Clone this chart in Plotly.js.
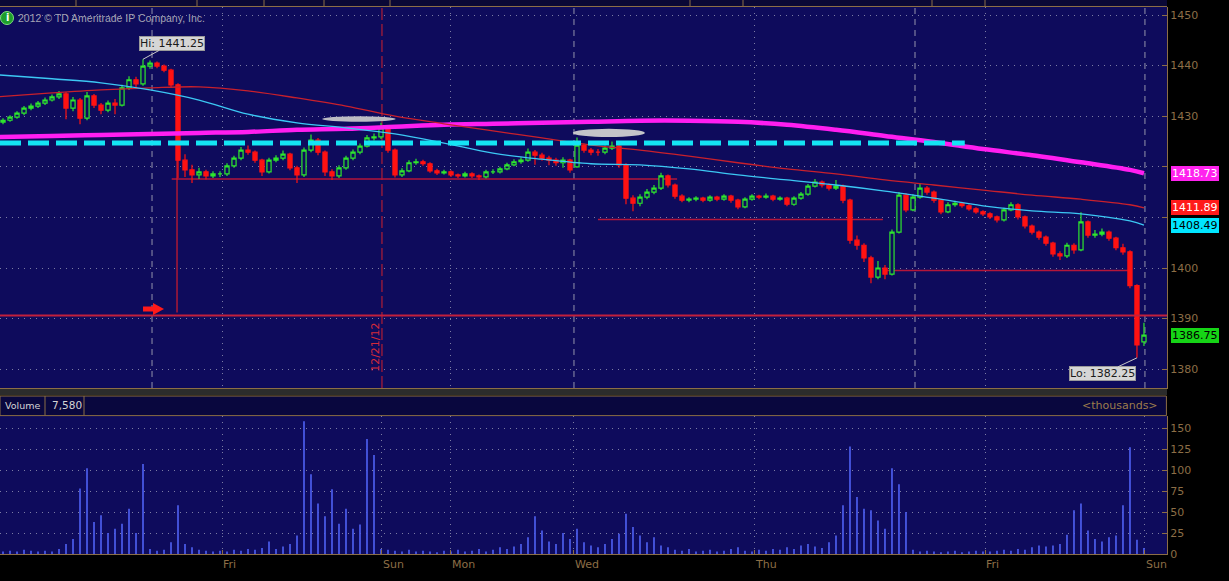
<!DOCTYPE html>
<html>
<head>
<meta charset="utf-8">
<script src="https://cdn.plot.ly/plotly-3.0.1.min.js"></script>
<style>
  html, body { margin: 0; padding: 0; background: #000; }
  #chart { width: 1229px; height: 581px; }
</style>
</head>
<body>
<div id="chart"></div>
<script>
// ---------- DATA ----------
const open = [1428.8,1429.2,1429.8,1430.6,1431.6,1432.0,1432.6,1433.2,1433.8,1434.4,
1431.6,1433.2,1429.6,1434.0,1432.2,1431.2,1432.6,1432.2,1435.6,1437.2,
1436.4,1439.9,1440.5,1439.9,1439.1,1436.2,1421.3,1419.4,1418.4,1419.0,
1418.2,1418.6,1418.6,1420.2,1421.7,1423.3,1422.9,1421.3,1419.0,1421.3,
1421.7,1422.5,1419.8,1418.4,1423.3,1425.3,1422.9,1419.0,1418.2,1419.8,
1421.7,1422.9,1424.1,1425.7,1425.9,1427.7,1423.3,1418.4,1419.2,1420.8,
1421.0,1420.6,1419.2,1418.8,1419.0,1418.4,1418.2,1418.6,1418.2,1418.0,
1419.0,1419.0,1419.6,1420.4,1421.0,1421.3,1422.9,1422.3,1421.7,1421.3,
1420.8,1421.3,1420.0,1424.3,1423.3,1422.9,1422.9,1423.7,1424.1,1420.4,
1413.8,1412.8,1414.0,1415.0,1415.8,1418.2,1416.4,1414.2,1413.4,1413.6,
1413.8,1413.4,1414.0,1413.6,1414.2,1413.4,1412.1,1413.6,1414.2,1414.0,
1414.2,1413.6,1413.8,1412.6,1413.8,1414.6,1416.2,1417.0,1416.4,1415.8,
1416.2,1413.4,1405.5,1404.5,1402.0,1398.2,1400.0,1398.8,1407.1,1414.4,
1411.5,1414.0,1415.8,1415.0,1413.4,1411.1,1412.5,1412.8,1412.3,1411.7,
1411.1,1410.7,1410.1,1409.5,1411.5,1412.5,1410.1,1408.3,1407.1,1406.1,
1404.9,1402.8,1402.4,1404.5,1403.6,1409.1,1406.5,1406.7,1407.1,1405.9,
1404.0,1403.2,1396.5,1385.4];

const high = [1429.6,1430.2,1431.0,1432.0,1432.5,1433.0,1433.7,1434.3,1435.0,1434.8,
1433.8,1433.6,1434.8,1434.4,1432.6,1433.1,1433.4,1436.2,1437.9,1437.8,
1441.25,1441.0,1440.8,1440.2,1439.4,1436.5,1422.5,1420.4,1419.8,1419.4,
1419.1,1419.1,1420.7,1422.2,1423.9,1424.2,1423.2,1421.6,1421.8,1422.3,
1423.2,1422.8,1420.2,1423.8,1426.4,1425.7,1423.2,1419.5,1420.3,1422.2,
1423.4,1424.6,1426.3,1426.6,1428.7,1428.0,1423.6,1419.7,1421.3,1421.6,
1421.4,1420.9,1419.6,1419.4,1419.3,1418.7,1419.0,1418.9,1418.5,1419.4,
1419.5,1420.0,1420.8,1421.5,1421.9,1423.6,1423.3,1422.8,1422.2,1421.8,
1421.9,1421.6,1425.8,1424.6,1423.7,1423.5,1424.2,1425.0,1424.4,1420.7,
1414.4,1414.6,1415.6,1416.4,1418.8,1418.5,1416.7,1414.6,1414.0,1414.2,
1414.1,1414.4,1414.3,1414.6,1414.5,1413.7,1414.0,1414.6,1414.5,1414.7,
1414.5,1414.2,1414.1,1414.2,1415.0,1416.6,1417.6,1417.3,1416.7,1417.4,
1416.5,1413.7,1406.4,1404.9,1402.4,1401.4,1400.6,1407.6,1415.0,1414.8,
1414.6,1416.8,1416.2,1415.3,1413.7,1413.0,1413.3,1413.1,1412.6,1412.0,
1411.4,1411.0,1410.4,1411.9,1413.0,1412.8,1410.4,1408.6,1407.4,1406.4,
1405.2,1403.3,1405.0,1404.9,1411.0,1409.4,1407.5,1407.8,1407.4,1406.2,
1404.8,1403.5,1396.8,1389.2];

const low = [1428.4,1428.9,1429.5,1430.2,1431.2,1431.6,1432.2,1432.9,1433.4,1429.4,
1431.0,1428.4,1429.2,1431.6,1430.4,1430.8,1430.4,1431.9,1435.2,1435.4,
1436.0,1439.4,1439.5,1438.7,1435.6,1417.8,1418.0,1416.8,1417.6,1417.5,
1417.8,1418.0,1418.2,1419.8,1421.3,1422.4,1420.8,1418.2,1418.7,1420.9,
1421.3,1419.3,1416.8,1418.0,1422.9,1422.3,1418.2,1417.4,1417.8,1419.4,
1421.3,1422.5,1423.8,1425.2,1425.5,1422.8,1417.9,1418.0,1418.9,1420.4,
1420.2,1418.8,1418.4,1418.5,1418.0,1417.8,1417.9,1417.8,1417.4,1417.7,
1418.6,1418.7,1419.3,1420.1,1420.6,1421.0,1420.4,1421.2,1420.3,1420.2,
1419.8,1418.8,1419.8,1422.8,1422.3,1422.2,1422.5,1423.3,1419.8,1412.6,
1411.2,1412.2,1413.6,1414.6,1415.4,1415.9,1413.7,1413.0,1413.0,1413.2,
1413.0,1413.1,1413.2,1413.3,1412.9,1411.6,1411.8,1413.3,1413.6,1413.7,
1413.2,1413.3,1412.2,1412.3,1413.5,1414.3,1415.9,1415.9,1415.3,1415.4,
1412.8,1404.8,1403.6,1401.2,1397.0,1397.8,1397.8,1398.5,1406.8,1411.0,
1411.2,1413.7,1414.5,1412.9,1410.6,1410.8,1412.1,1411.9,1411.3,1410.7,
1410.3,1409.7,1409.0,1409.2,1411.2,1409.6,1407.8,1406.6,1405.6,1404.4,
1402.2,1401.6,1402.0,1402.8,1403.3,1406.0,1406.0,1406.3,1405.4,1403.5,
1402.6,1396.0,1382.25,1384.6];

const close = [1429.2,1429.8,1430.6,1431.6,1432.0,1432.6,1433.2,1433.8,1434.4,1431.6,
1433.2,1429.6,1434.0,1432.2,1431.2,1432.6,1432.2,1435.6,1437.2,1436.4,
1439.9,1440.5,1439.9,1439.1,1436.2,1421.3,1419.4,1418.4,1419.0,1418.2,
1418.6,1418.6,1420.2,1421.7,1423.3,1422.9,1421.3,1419.0,1421.3,1421.7,
1422.5,1419.8,1418.4,1423.3,1425.3,1422.9,1419.0,1418.2,1419.8,1421.7,
1422.9,1424.1,1425.7,1425.9,1427.7,1423.3,1418.4,1419.2,1420.8,1421.0,
1420.6,1419.2,1418.8,1419.0,1418.4,1418.2,1418.6,1418.2,1418.0,1419.0,
1419.0,1419.6,1420.4,1421.0,1421.3,1422.9,1422.3,1421.7,1421.3,1420.8,
1421.3,1419.4,1424.3,1423.3,1422.9,1422.9,1423.7,1424.1,1420.4,1413.8,
1412.8,1414.0,1415.0,1415.8,1418.2,1416.4,1414.2,1413.4,1413.6,1413.8,
1413.4,1414.0,1413.6,1414.2,1413.4,1412.1,1413.6,1414.2,1414.0,1414.2,
1413.6,1413.8,1412.6,1413.8,1414.6,1416.2,1417.0,1416.4,1415.8,1416.2,
1413.4,1405.5,1404.5,1402.0,1398.2,1400.0,1398.8,1407.1,1414.4,1411.5,
1414.0,1415.8,1415.0,1413.4,1411.1,1412.5,1412.8,1412.3,1411.7,1411.1,
1410.7,1410.1,1409.5,1411.5,1412.5,1410.1,1408.3,1407.1,1406.1,1404.9,
1402.8,1402.4,1404.5,1403.6,1409.1,1406.5,1406.7,1407.1,1405.9,1404.0,
1403.2,1396.5,1384.8,1386.75];

// volume, thousands
const volume = [3,4,3,5,4,3,4,3,6,12,
18,78,102,38,46,25,30,36,54,25,
107,6,4,5,14,58,12,8,5,4,
3,4,3,5,4,6,5,7,15,6,
9,12,22,158,95,60,45,77,36,54,
30,35,137,118,6,5,4,3,5,3,
4,3,2,4,3,5,3,4,6,3,
5,8,6,9,12,20,45,28,15,12,
25,18,30,14,10,8,12,18,24,48,
32,22,14,20,10,8,5,4,6,3,
4,5,3,4,6,8,4,3,5,4,
6,5,8,6,10,12,9,7,14,22,
58,128,68,54,52,40,30,102,83,50,
5,3,4,3,2,3,4,2,3,4,
3,3,4,5,4,6,5,8,10,9,
10,12,23,52,60,28,18,15,20,22,
58,127,17,7];

// moving averages, sampled at bar indices
const maIdx     = [-1,7,14,21,28,35,42,49,56,63,70,77,84,91,98,105,112,119,126,133,140,147,154,161,163];
const maCyan    = [1438.2,1437.4,1436.6,1435.2,1433.2,1430.4,1428.7,1427.7,1426.5,1424.7,1422.7,1421.5,1420.6,1420.4,1419.6,1418.4,1417.4,1416.4,1415.2,1413.8,1412.3,1411.3,1410.7,1409.3,1408.49];
const maRed     = [1433.8,1434.6,1435.2,1435.6,1435.8,1435.0,1433.6,1432.0,1430.0,1428.5,1427.1,1425.7,1424.3,1423.3,1422.1,1420.8,1419.6,1418.6,1417.4,1416.4,1415.4,1414.4,1413.6,1412.5,1411.89];
const maMagenta = [1425.9,1426.1,1426.3,1426.5,1426.7,1426.9,1427.3,1427.5,1427.9,1428.3,1428.5,1428.7,1428.9,1429.1,1429.1,1428.9,1428.3,1427.3,1426.1,1424.9,1423.5,1422.3,1420.9,1419.4,1418.73];

// drawn levels
const dashedCyanLevel = 1424.7;
const supportLevels = [1417.6, 1409.6, 1399.5];
const supportFrom   = [24.1, 85.0, 126.3];
const supportTo     = [96.3, 125.7, 160.7];
const fullLevel = 1390.6;

// time axis (bar-index positions)
const dayTickIdx   = [31.29, 54.14, 64.0, 81.57, 107.43, 140.29, 163.14];
const dayTickText  = ['Fri', 'Sun', 'Mon', 'Wed', 'Thu', 'Fri', 'Sun'];
const dottedMainIdx = [31.29, 64.0, 107.43, 140.29];
const sessionIdx   = [21.29, 81.57, 130.29, 163.14];
const markerIdx    = 54.14;   // 12/21/12
const priceTicks   = [1380, 1390, 1400, 1410, 1420, 1430, 1440, 1450];
// 1410 and 1420 are hidden under the value badges in the reference
const priceTickText = ['1380', '1390', '1400', '', '', '1430', '1440', '1450'];
const volTicks     = [0, 25, 50, 75, 100, 125, 150];

// ---------- CHART ----------
const BROWN = '#8c6e46';
const GRID = '#7c7ca4';
const FONT = 'DejaVu Sans, sans-serif';
const idx = close.map((_, i) => i);
const XR = [-0.43, 166.29];

const traces = [
  { type: 'scatter', mode: 'lines', x: maIdx, y: maMagenta, xaxis: 'x', yaxis: 'y',
    line: { color: '#ff1ef0', width: 4.5, shape: 'spline' }, hoverinfo: 'skip' },
  { type: 'scatter', mode: 'lines', x: maIdx, y: maRed, xaxis: 'x', yaxis: 'y',
    line: { color: '#c8202c', width: 1.3, shape: 'spline' }, hoverinfo: 'skip' },
  { type: 'scatter', mode: 'lines', x: maIdx, y: maCyan, xaxis: 'x', yaxis: 'y',
    line: { color: '#3cc8f4', width: 1.3, shape: 'spline' }, hoverinfo: 'skip' },
  { type: 'candlestick', x: idx, open: open, high: high, low: low, close: close,
    xaxis: 'x', yaxis: 'y', whiskerwidth: 0,
    increasing: { line: { color: '#2ee62e', width: 1.2 }, fillcolor: '#0e0b5c' },
    decreasing: { line: { color: '#ff1212', width: 1.2 }, fillcolor: '#ff1212' },
    hoverinfo: 'skip' },
  { type: 'bar', x: idx, y: volume, xaxis: 'x2', yaxis: 'y2', width: 0.25,
    marker: { color: '#4a5ae8', line: { width: 0 } }, hoverinfo: 'skip' }
];

const shapes = [];
sessionIdx.forEach(v => shapes.push({ type: 'line', xref: 'x', yref: 'y domain', x0: v, x1: v, y0: 0, y1: 1,
  line: { color: '#9494ac', width: 1, dash: '6px,5px' }, layer: 'below' }));
shapes.push({ type: 'line', xref: 'x', yref: 'y domain', x0: markerIdx, x1: markerIdx, y0: 0, y1: 1,
  line: { color: '#d0202e', width: 1, dash: '12px,4px' }, layer: 'below' });
shapes.push({ type: 'line', xref: 'x', yref: 'y', x0: XR[0], x1: 137.4, y0: dashedCyanLevel, y1: dashedCyanLevel,
  line: { color: '#14e4f4', width: 5, dash: '21px,7px' }, layer: 'above' });
supportLevels.forEach((lv, k) => shapes.push({ type: 'line', xref: 'x', yref: 'y',
  x0: supportFrom[k], x1: supportTo[k], y0: lv, y1: lv,
  line: { color: '#b4163a', width: 1.5 }, layer: 'below' }));
shapes.push({ type: 'line', xref: 'paper', yref: 'y', x0: 0, x1: 1, y0: fullLevel, y1: fullLevel,
  line: { color: '#c2203c', width: 2 }, layer: 'above' });
shapes.push({ type: 'line', xref: 'x', yref: 'y', x0: 24.86, x1: 24.86, y0: 1436.0, y1: 1391.2,
  line: { color: '#d41c2c', width: 1.2 }, layer: 'below' });
shapes.push({ type: 'path', xref: 'x', yref: 'y', xsizemode: 'pixel', ysizemode: 'pixel',
  xanchor: 20, yanchor: 1391.9,
  path: 'M0,-2.5 L10,-2.5 L10,-6 L21,0 L10,6 L10,2.5 L0,2.5 Z',
  fillcolor: '#ff1a1a', line: { width: 0 }, layer: 'above' });
shapes.push({ type: 'circle', xref: 'x', yref: 'y', x0: 45.6, x1: 56.1, y0: 1428.9, y1: 1430.0,
  fillcolor: '#cfcfcf', line: { width: 0 }, opacity: 0.9, layer: 'above' });
shapes.push({ type: 'circle', xref: 'x', yref: 'y', x0: 81.4, x1: 91.7, y0: 1425.9, y1: 1427.5,
  fillcolor: '#cfcfcf', line: { width: 0 }, opacity: 0.95, layer: 'above' });
shapes.push({ type: 'rect', xref: 'paper', yref: 'paper', x0: 0, x1: 1, y0: 1.0, y1: 1.0128,
  fillcolor: '#0a0836', line: { width: 0 }, layer: 'above' });
shapes.push({ type: 'line', xref: 'paper', yref: 'paper', x0: 0, x1: 1, y0: 1.0009, y1: 1.0009,
  line: { color: BROWN, width: 1 }, layer: 'above' });
[76, 197, 264, 324, 390, 690, 743, 932, 985].forEach(px => shapes.push({ type: 'line', xref: 'paper', yref: 'paper',
  x0: px / 1167, x1: px / 1167, y0: 1.0009, y1: 1.0128, line: { color: BROWN, width: 1 }, layer: 'above' }));
shapes.push({ type: 'rect', xref: 'paper', yref: 'paper', x0: 0, x1: 1, y0: 0.2907, y1: 0.3016,
  fillcolor: '#2c2c2c', line: { width: 0 }, layer: 'above' });
shapes.push({ type: 'rect', xref: 'paper', yref: 'paper', x0: 0, x1: 0.9995, y0: 0.2530, y1: 0.2888,
  fillcolor: '#09073e', line: { color: BROWN, width: 1 }, layer: 'above' });
[45, 84].forEach(px => shapes.push({ type: 'line', xref: 'paper', yref: 'paper', x0: px / 1167, x1: px / 1167,
  y0: 0.2530, y1: 0.2888, line: { color: BROWN, width: 1 }, layer: 'above' }));
shapes.push({ type: 'circle', xref: 'paper', yref: 'paper', x0: 0.5 / 1167, x1: 13.5 / 1167, y0: 0.9680, y1: 0.9918,
  fillcolor: '#1e9e2c', line: { color: '#7ee07e', width: 1 }, layer: 'above' });

function valBox(text, y, bg, fg) {
  return { xref: 'paper', yref: 'y', x: 1171 / 1167, y: y, xanchor: 'left', yanchor: 'middle',
    text: text, showarrow: false, bgcolor: bg, bordercolor: bg, borderwidth: 1, borderpad: 0,
    font: { family: FONT, size: 11, color: fg } };
}

const annotations = [
  { xref: 'paper', yref: 'paper', x: 7 / 1167, y: 0.9799, text: '<b>i</b>', showarrow: false,
    font: { family: FONT, size: 10, color: '#ffffff' }, xanchor: 'center', yanchor: 'middle' },
  { xref: 'paper', yref: 'paper', x: 16 / 1167, y: 0.9799, text: '2012 © TD Ameritrade IP Company, Inc.',
    showarrow: false, xanchor: 'left', yanchor: 'middle', font: { family: 'Liberation Sans, sans-serif', size: 10.5, color: '#a4a4b4' } },
  { xref: 'x', yref: 'y', x: 20, y: 1441.25, text: 'Hi: 1441.25', showarrow: true, arrowhead: 0,
    arrowwidth: 1, arrowcolor: '#c8c8c8', ax: 29, ay: -16, bgcolor: '#d6d6d6', bordercolor: '#9a9a9a',
    borderwidth: 1, borderpad: 0, font: { family: FONT, size: 11, color: '#1a1a1a' } },
  { xref: 'x', yref: 'y', x: 162, y: 1382.25, text: 'Lo: 1382.25', showarrow: true, arrowhead: 0,
    arrowwidth: 1, arrowcolor: '#c8c8c8', ax: -34, ay: 16, bgcolor: '#d6d6d6', bordercolor: '#9a9a9a',
    borderwidth: 1, borderpad: 0, font: { family: FONT, size: 11, color: '#1a1a1a' } },
  { xref: 'x', yref: 'y', x: 53.2, y: 1384.3, text: '12/21/12', textangle: -90, showarrow: false,
    font: { family: FONT, size: 11, color: '#d42a3a' } },
  valBox('1418.73', maMagenta[maMagenta.length - 1], '#ff22ee', '#ffffff'),
  valBox('1411.89', maRed[maRed.length - 1], '#ff1a1a', '#ffffff'),
  valBox('1408.49', maCyan[maCyan.length - 1], '#00e6ff', '#000000'),
  valBox('1386.75', close[close.length - 1], '#16d416', '#000000'),
  { xref: 'paper', yref: 'paper', x: 3 / 1167, y: 0.2716, text: 'Volume', showarrow: false,
    xanchor: 'left', yanchor: 'middle', font: { family: FONT, size: 9.5, color: '#d4d4d4' } },
  { xref: 'paper', yref: 'paper', x: 50 / 1167, y: 0.2716, text: '7,580', showarrow: false,
    xanchor: 'left', yanchor: 'middle', font: { family: FONT, size: 10.5, color: '#d4d4d4' } },
  { xref: 'paper', yref: 'paper', x: 1160 / 1167, y: 0.2716, text: '&lt;thousands&gt;', showarrow: false,
    xanchor: 'right', yanchor: 'middle', font: { family: FONT, size: 11, color: '#9c7c4c' } }
];

const layout = {
  width: 1229, height: 581,
  paper_bgcolor: '#000000', plot_bgcolor: '#0e0b5c',
  margin: { l: 0, r: 62, t: 7, b: 27, pad: 0 },
  showlegend: false, hovermode: false, boxgap: 0.15,
  font: { family: FONT, size: 11, color: BROWN },
  xaxis: { domain: [0, 1], anchor: 'y', range: XR, rangeslider: { visible: false },
    tickmode: 'array', tickvals: dottedMainIdx, showticklabels: false, ticks: '',
    showgrid: true, gridcolor: GRID, griddash: '1px,5px', gridwidth: 1,
    zeroline: false, showline: true, linecolor: BROWN, linewidth: 1, fixedrange: true },
  xaxis2: { domain: [0, 1], anchor: 'y2', range: XR,
    tickmode: 'array', tickvals: dayTickIdx, ticktext: dayTickText,
    ticklabelposition: 'outside right', ticks: 'inside', ticklen: 4, tickcolor: BROWN,
    tickfont: { family: FONT, size: 11, color: BROWN },
    showgrid: true, gridcolor: GRID, griddash: '1px,5px', gridwidth: 1,
    zeroline: false, showline: true, linecolor: BROWN, linewidth: 1, fixedrange: true },
  yaxis: { domain: [0.3035, 1], anchor: 'x', side: 'right', range: [1376.29, 1451.58],
    tickmode: 'array', tickvals: priceTicks, ticktext: priceTickText, ticks: 'inside', ticklen: 5, tickcolor: BROWN,
    tickfont: { family: FONT, size: 11, color: BROWN },
    showgrid: true, gridcolor: GRID, griddash: '1px,5px', gridwidth: 1,
    zeroline: false, showline: true, linecolor: BROWN, linewidth: 1, fixedrange: true },
  yaxis2: { domain: [0, 0.2523], anchor: 'x2', side: 'right', range: [0, 164.3],
    tickmode: 'array', tickvals: volTicks, ticks: 'inside', ticklen: 5, tickcolor: BROWN,
    tickfont: { family: FONT, size: 11, color: BROWN },
    showgrid: true, gridcolor: GRID, griddash: '1px,5px', gridwidth: 1,
    zeroline: false, showline: true, linecolor: BROWN, linewidth: 1, fixedrange: true },
  shapes: shapes,
  annotations: annotations
};

Plotly.newPlot('chart', traces, layout, { staticPlot: true, displayModeBar: false });
</script>
</body>
</html>
